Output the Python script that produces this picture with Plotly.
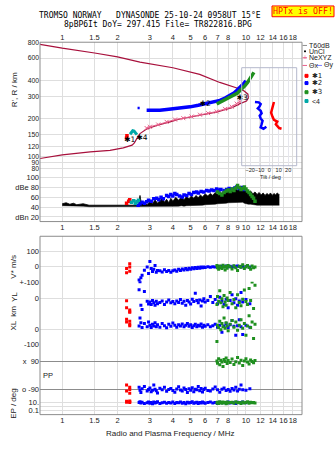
import plotly.graph_objects as go
import numpy as np

W, H = 335, 451
def px(x): return x / W
def py(y): return 1 - y / H

# ---------------- ticks ----------------
freq_ticks = [1, 1.5, 2, 3, 4, 5, 6, 7, 8, 9, 10, 12, 14, 16, 18]
freq_labels_mid = ["1", "1.5", "2", "3", "4", "5", "6", "7", "8", "9", "10", "12", "14", "16", "18"]
freq_labels_tb = ["1", "1.5", "2", "3", "4", "5", "6", "7", "8", "", "10", "12", "14", "16", "18"]
range_ticks = [800, 600, 400, 300, 200, 150, 120, 100, 90, 80]
db_ticks = [100, 80, 60, 40, 20]
db_labels = ["100", "dBe 80", "60", "40", "dBn 20"]
tilt_ticks = [-20, -10, 0, 10, 20]

# ---------------- top panel data ----------------
prof_f = [0.756, 1.0, 1.5, 2.0, 2.65, 4.0, 5.6, 7.2, 9.28, 9.7, 10.25, 10.3, 10.07, 9.28, 8.4, 7.6, 6.9,
          6.11, 5.0, 4.37, 3.86, 3.27, 2.88, 2.65, 2.54, 2.47, 2.4, 2.15, 1.82, 1.42, 1.0, 0.756]
prof_r = [771, 718, 658, 612, 557, 503, 446, 385, 342, 332, 311, 290, 275, 262, 243, 232, 224,
          217, 205, 198, 188, 176, 165, 152, 138, 128, 123, 117, 112, 109, 103, 96.5]

ne_f = [2.88, 3.0, 3.33, 3.7, 4.11, 4.56, 5.06, 5.62, 6.23, 6.93, 7.69, 8.36, 8.9, 9.28]
ne_r = [168, 172, 179, 188, 196, 201, 207, 214, 220, 227, 238, 248, 262, 272]

b_top_f = [2.88, 3.1, 3.4, 3.7, 4.02, 4.5, 4.96, 5.5, 6.11, 6.6, 7.22, 7.7, 8.18, 8.6, 8.9, 9.3, 9.67, 10.0]
b_top_r = [232, 231, 232, 235, 238, 242, 247, 254, 262, 270, 278, 290, 304, 318, 332, 352, 374, 397]
b_dash_f = [2.57, 2.64]
b_dash_r = [242, 242]

g_top_f = [6.93, 7.52, 8.0, 8.53, 9.0, 9.28, 9.6, 9.88, 10.2, 10.5, 10.8, 10.96, 11.05]
g_top_r = [260, 278, 290, 304, 318, 332, 345, 363, 385, 409, 430, 446, 462]

c_top_f = [2.34, 2.38, 2.42, 2.46, 2.5, 2.55]
c_top_r = [150, 155, 160, 159, 154, 149]

r_top_f = [2.24, 2.25]
r_top_r = [140, 146]

lab_f = [2.33, 2.72, 6.0, 9.55]
lab_r = [136, 141, 258, 288]
lab_t = ["✱1", "✱4", "✱2", "✱3"]

# inset tilt data
tilt_b_deg = [-15, -11, -9, -10, -12, -9, -8, -10, -9, -7, -8, -9, -6, -3]
tilt_b_r = [270, 268, 260, 250, 240, 230, 220, 210, 200, 192, 180, 170, 166, 172]
tilt_r_deg = [5, 4, 3.5, 2, 3.5, 5, 8.5, 7, 10.5, 13]
tilt_r_r = [270, 255, 243, 222, 206, 195, 189, 180, 168, 166]

# ---------------- amplitude panel ----------------
noise_f = [1.0, 1.05, 1.1, 1.15, 1.2, 1.3, 1.4, 1.5, 1.7, 1.9, 2.1, 2.3, 2.5, 2.6,
           2.65, 2.7, 2.8, 2.9, 3.0, 3.1, 3.2, 3.3, 3.4, 3.5, 3.6, 3.7, 3.8, 3.9, 4.0,
           4.15, 4.3, 4.45, 4.6, 4.75, 4.9, 5.05, 5.2, 5.35, 5.5, 5.65, 5.8, 6.0, 6.2,
           6.4, 6.6, 6.8, 7.0, 7.2, 7.4, 7.6, 7.8, 8.0, 8.2, 8.4, 8.6, 8.8, 9.0, 9.2,
           9.4, 9.6, 9.8, 10.0, 10.3, 10.6, 10.9, 11.2, 11.5, 11.8, 12.1, 12.4, 12.7,
           13.0, 13.3, 13.6, 13.9, 14.2, 14.5, 14.8, 15.1, 15.2]
noise_hi = [47, 49, 46, 48, 45, 47, 44, 44, 43, 43, 43, 43, 43, 44,
            64, 46, 50, 45, 52, 47, 55, 48, 53, 59, 50, 56, 49, 58, 52,
            60, 54, 61, 55, 62, 57, 63, 58, 64, 59, 65, 61, 67, 63,
            68, 64, 70, 66, 72, 68, 73, 70, 75, 71, 76, 72, 78, 74, 79,
            75, 77, 73, 76, 70, 73, 67, 71, 66, 70, 65, 69, 64,
            68, 65, 69, 64, 68, 65, 69, 66, 66]
noise_lo = [43, 43, 42, 43, 42, 42, 41, 41, 41, 41, 41, 41, 41, 41,
            41, 41, 41, 41, 41, 41, 41, 41, 41, 41, 41, 41, 41, 41, 42,
            42, 42, 43, 42, 43, 43, 44, 43, 44, 44, 44, 44, 45, 45,
            45, 45, 46, 47, 47, 47, 48, 48, 49, 49, 50, 50, 50, 50, 50,
            49, 50, 48, 47, 46, 46, 45, 45, 44, 44, 44, 44, 44,
            44, 44, 44, 44, 44, 44, 44, 44, 44]

b_amp_f = [2.59, 2.65, 2.72, 2.8, 2.88, 2.95, 3.05, 3.15, 3.27, 3.35, 3.45, 3.55, 3.7, 3.8, 3.9,
           4.0, 4.1, 4.2, 4.35, 4.5, 4.6, 4.76, 4.9, 5.05, 5.2, 5.39, 5.5, 5.7, 5.9, 6.11, 6.3,
           6.5, 6.7, 6.93, 7.1, 7.3, 7.6, 7.86, 8.1, 8.4, 8.7, 8.9, 9.2, 9.5, 9.8]
b_amp_db = [44, 47, 50, 48, 51, 54, 52, 57, 58, 55, 60, 57, 64, 62, 66,
            63, 68, 66, 63, 61, 65, 64, 68, 66, 70, 71, 69, 72, 71, 74, 73,
            75, 74, 77, 75, 76, 74, 76, 78, 77, 79, 81, 78, 80, 76]
g_amp_f = [7.0, 7.2, 7.4, 7.6, 7.8, 8.0, 8.2, 8.4, 8.6, 8.8, 9.0, 9.2, 9.4, 9.6, 9.8, 10.0,
           10.2, 10.4, 10.6, 10.8, 11.0, 11.2]
g_amp_db = [71, 68, 65, 70, 73, 75, 72, 77, 74, 79, 84, 80, 76, 78, 81, 77,
            73, 70, 66, 62, 58, 52]
r_amp_f = [2.24, 2.3, 2.33]
r_amp_db = [48, 52, 55]
c_amp_f = [2.38, 2.45, 2.5, 2.55, 2.6]
c_amp_db = [50, 53, 48, 51, 54]

# ---------------- lower panel ----------------
blue_f = [2.62, 2.65, 2.68, 2.72, 2.8, 2.9, 2.95, 3.0, 3.05, 3.1,
          3.15, 3.2, 3.25, 3.3, 3.4, 3.5, 3.6, 3.7, 3.8, 3.9,
          4.0, 4.1, 4.2, 4.3, 4.4, 4.5, 4.6, 4.7, 4.8, 4.9,
          5.0, 5.1, 5.2, 5.3, 5.4, 5.5, 5.6, 5.7, 5.8, 5.9,
          6.0, 6.2, 6.4, 6.6, 6.8, 7.0, 7.2, 7.4, 7.6, 7.8,
          8.0, 8.2, 8.4, 8.6, 8.8, 9.0, 9.2, 9.4, 9.6, 10.0,
          10.5]
blue_v = [-91, -106, -75, -60, -26, -4, -48, 33, -15, -35,
          -20, 5, -40, -28, -30, -38, -22, -35, -28, -40,
          -30, -25, -33, -20, -28, -18, -25, -15, -22, -12,
          -20, -10, -16, -8, -14, -6, -12, -5, -10, -4,
          -8, -3, -6, -2, -5, -1, -4, 0, -3, 2,
          -2, 1, -4, 0, -3, 2, -1, -5, 0, -2,
          -4]
blue_yl = [51, 102, -45, -71, 41, -20, -38, -25, -40, -15,
           -30, -45, -20, -35, -28, -18, -40, -25, -12, -30,
           -22, -35, -18, -28, -10, -32, -20, -45, -15, -25,
           -38, -8, -22, 30, -15, -30, -12, -50, -18, -5,
           -25, -15, 10, -28, -10, -35, 5, -20, -40, -8,
           -60, -15, 20, -30, -5, -45, -18, 35, -25, -10,
           -35]
blue_xl = [20, 71, 40, 10, 35, 15, 45, 25, 10, 30,
           20, 40, 15, 28, 12, 35, 22, 8, 30, 18,
           38, 25, 12, 28, 20, 32, 15, 25, 35, 18,
           28, 10, 22, 30, 15, 25, 20, 32, 12, 24,
           18, 28, 15, 22, 30, 12, 25, -20, 20, 35,
           10, 28, 55, 18, -40, 22, 60, 15, -35, 25,
           12]
blue_pp = [-75, -95, -110, -85, -70, -100, -90, -80, -105, -95,
           -60, -88, -98, -112, -82, -92, -76, -102, -90, -84,
           -96, -108, -86, -72, -94, -100, -80, -90, -110, -85,
           -95, -78, -104, -88, -92, -70, -98, -84, -106, -90,
           -82, -96, -100, -86, -74, -92, -108, -88, -80, -96,
           -90, -102, -84, -94, -76, -100, -88, -60, -92, -95,
           -85]
blue_ep = [10, 15, 8, 12, 6, 9, 14, 7, 11, 5,
           13, 8, 10, 16, 6, 9, 12, 7, 11, 8,
           14, 6, 10, 9, 13, 7, 11, 5, 12, 8,
           10, 15, 7, 9, 12, 6, 11, 8, 13, 9,
           7, 10, 14, 8, 11, 6, 12, 9, 10, 7,
           13, 8, 11, 9, 6, 12, 10, 8, 14, 9,
           11]

green_f = [6.95, 7.0, 7.1, 7.2, 7.3, 7.4, 7.5, 7.6, 7.7, 7.8,
           7.9, 8.0, 8.2, 8.4, 8.6, 8.8, 9.0, 9.2, 9.4, 9.6,
           9.8, 10.0, 10.2, 10.4, 10.6, 10.8, 11.0, 11.2]
green_v = [5, -10, -20, 2, -8, -15, 8, -5, -25, 0,
           -12, 6, -3, -18, 4, -9, -28, 1, -6, 10,
           -14, -2, 5, -8, -20, 3, -10, -4]
green_yl = [-40, 10, -20, 45, -30, -5, -55, 15, -25, -45,
            0, -15, 35, -35, -10, -60, 20, -28, -48, -8,
            50, -22, -40, 60, -15, 100, -65, 80]
green_xl = [-80, 25, 10, 50, -5, 35, 15, 70, 5, 40,
            20, -10, 30, 55, 12, 45, -8, 25, 60, 5,
            35, -40, 20, 85, 10, 45, -60, 30]
green_pp = [95, 80, 110, 70, 100, 88, 60, 105, 92, 115,
            78, 98, 85, 108, 72, 90, 118, 82, 100, 65,
            95, 110, 88, 76, 102, 92, 84, 98]
green_ep = [8, 12, 6, 15, 10, 7, 13, 9, 11, 5,
            14, 8, 10, 12, 7, 16, 9, 11, 6, 13,
            8, 10, 15, 7, 12, 9, 11, 8]

red_f = [2.24, 2.24, 2.33, 2.33, 2.33]
red_v = [-43, -15, 18, -4, -33]
red_yl = [-17, -60, -75, -92, -85]
red_xl = [62, 45, 30, 21, 50]
red_pp = [-60, -100, -75, -115, -90]
red_ep = [12, 22, 25, 10, 16]

# ---------------- colours ----------------
C_RED = "#ff0000"
C_BLUE = "#0000ff"
C_GREEN = "#1f8f1f"
C_CYAN = "#00a8a8"
C_PROF = "#a8103c"
C_PINK = "#e8608c"
GRID = "#dedede"
FONT = "Liberation Sans"

fig = go.Figure()

def sc(x, y, xa, ya, color, mode="markers", size=3, **kw):
    fig.add_trace(go.Scatter(x=x, y=y, xaxis=xa, yaxis=ya, mode=mode,
                             marker=dict(color=color, size=size, symbol="square"),
                             line=dict(color=color), showlegend=False, hoverinfo="skip", **kw))

# top panel
fig.add_trace(go.Scatter(x=prof_f, y=prof_r, xaxis="x", yaxis="y", mode="lines",
                         line=dict(color=C_PROF, width=1.2), showlegend=False, hoverinfo="skip"))
fig.add_trace(go.Scatter(x=ne_f, y=ne_r, xaxis="x", yaxis="y", mode="lines+markers",
                         line=dict(color=C_PINK, width=1),
                         marker=dict(symbol="x-thin", size=4, line=dict(color=C_PINK, width=1)),
                         showlegend=False, hoverinfo="skip"))
fig.add_trace(go.Scatter(x=b_top_f, y=b_top_r, xaxis="x", yaxis="y", mode="lines",
                         line=dict(color=C_BLUE, width=3.5), showlegend=False, hoverinfo="skip"))
fig.add_trace(go.Scatter(x=b_dash_f, y=b_dash_r, xaxis="x", yaxis="y", mode="lines",
                         line=dict(color=C_BLUE, width=2.5), showlegend=False, hoverinfo="skip"))
fig.add_trace(go.Scatter(x=g_top_f, y=g_top_r, xaxis="x", yaxis="y", mode="lines",
                         line=dict(color=C_GREEN, width=3.5), showlegend=False, hoverinfo="skip"))
fig.add_trace(go.Scatter(x=c_top_f, y=c_top_r, xaxis="x", yaxis="y", mode="lines",
                         line=dict(color=C_CYAN, width=3), showlegend=False, hoverinfo="skip"))
sc(r_top_f, r_top_r, "x", "y", C_RED, size=3.5)
fig.add_trace(go.Scatter(x=lab_f, y=lab_r, xaxis="x", yaxis="y", mode="text", text=lab_t,
                         textfont=dict(family="DejaVu Sans", size=7.5, color="black"),
                         showlegend=False, hoverinfo="skip"))

# inset
fig.add_trace(go.Scatter(x=tilt_b_deg, y=tilt_b_r, xaxis="x4", yaxis="y8", mode="lines",
                         line=dict(color=C_BLUE, width=2.5), showlegend=False, hoverinfo="skip"))
fig.add_trace(go.Scatter(x=tilt_r_deg, y=tilt_r_r, xaxis="x4", yaxis="y8", mode="lines",
                         line=dict(color=C_RED, width=2.5), showlegend=False, hoverinfo="skip"))

# amplitude
fig.add_trace(go.Scatter(x=noise_f, y=noise_lo, xaxis="x2", yaxis="y2", mode="lines",
                         line=dict(color="black", width=0.5), showlegend=False, hoverinfo="skip"))
fig.add_trace(go.Scatter(x=noise_f, y=noise_hi, xaxis="x2", yaxis="y2", mode="lines",
                         line=dict(color="black", width=0.8), fill="tonexty", fillcolor="black",
                         showlegend=False, hoverinfo="skip"))
sc(b_amp_f, b_amp_db, "x2", "y2", C_BLUE, size=3.5)
sc(g_amp_f, g_amp_db, "x2", "y2", C_GREEN, size=3.5)
sc(r_amp_f, r_amp_db, "x2", "y2", C_RED, size=3.5)
sc(c_amp_f, c_amp_db, "x2", "y2", C_CYAN, size=3.5)

# lower panels
for ya, bv, gv, rv in [("y3", blue_v, green_v, red_v), ("y4", blue_yl, green_yl, red_yl),
                       ("y5", blue_xl, green_xl, red_xl), ("y6", blue_pp, green_pp, red_pp),
                       ("y7", blue_ep, green_ep, red_ep)]:
    sc(blue_f, bv, "x3", ya, C_BLUE)
    sc(green_f, gv, "x3", ya, C_GREEN)
    sc(red_f, rv, "x3", ya, C_RED)

tf = dict(family=FONT, size=7.5, color="#222")
common = dict(zeroline=False, showline=False, ticks="", tickfont=tf)
xbase = dict(type="log", range=[-0.121, 1.305], domain=[px(40), px(302)], tickvals=freq_ticks,
             showgrid=True, gridcolor=GRID, gridwidth=1, tickangle=0, **common)

def lin_range(top_px, bot_px, v0, p0, scale):
    return [v0 - (bot_px - p0) / scale, v0 + (p0 - top_px) / scale]

def log_range(top_px, bot_px, v0, p0, ppd):
    return [np.log10(v0) - (bot_px - p0) / ppd, np.log10(v0) + (p0 - top_px) / ppd]

layout = dict(
    width=W, height=H, margin=dict(l=0, r=0, t=0, b=0),
    paper_bgcolor="white", plot_bgcolor="rgba(0,0,0,0)", hovermode=False,
    xaxis=dict(anchor="y", side="top", ticktext=freq_labels_tb, **xbase),
    xaxis2=dict(anchor="y2", side="bottom", ticktext=freq_labels_mid, matches="x", **xbase),
    xaxis3=dict(anchor="y7", side="bottom", ticktext=freq_labels_tb, **xbase),
    xaxis4=dict(anchor="y8", domain=[px(241.7), px(296.7)], range=[-29, 29], tickvals=tilt_ticks,
                showgrid=True, gridcolor="#e6e6ec", zeroline=False, showline=False, ticks="",
                tickangle=0, tickfont=dict(family=FONT, size=5.5, color="#222")),
    yaxis=dict(anchor="x", domain=[py(170), py(39)], type="log",
               range=log_range(39, 170, 800, 39, 129.2), tickvals=range_ticks,
               showgrid=True, gridcolor=GRID, zeroline=False, showline=False, ticks="",
               tickfont=dict(family=FONT, size=6.8, color="#222")),
    yaxis2=dict(anchor="x2", domain=[py(222), py(170)],
                range=lin_range(170, 222, 100, 177.3, 0.5), tickvals=db_ticks, ticktext=db_labels,
                showgrid=True, gridcolor=GRID, **common),
    yaxis3=dict(anchor="x3", domain=[py(283.3), py(237)],
                range=lin_range(237, 283.3, 0, 267.7, 0.1533), tickvals=[100, 0],
                ticktext=["100", "0"], showgrid=True, gridcolor=GRID, **common),
    yaxis4=dict(anchor="x3", domain=[py(316), py(283.3)],
                range=lin_range(283.3, 316, 0, 300, 0.1635), tickvals=[100, 0, -100],
                ticktext=["+-100", "0", "+-100"], showgrid=True, gridcolor=GRID, **common),
    yaxis5=dict(anchor="x3", domain=[py(347.7), py(316)],
                range=lin_range(316, 347.7, 0, 331.7, 0.16), tickvals=[0, -100],
                ticktext=["0", "-100"], showgrid=True, gridcolor=GRID, **common),
    yaxis6=dict(anchor="x3", domain=[py(400), py(347.7)],
                range=lin_range(347.7, 400, 0, 379.2, 0.1572), tickvals=[90, -90],
                ticktext=["x  90", "o -90"], showgrid=True, gridcolor="#8c8c8c", **common),
    yaxis7=dict(anchor="x3", domain=[py(419), py(400)], type="log",
                range=log_range(400, 419, 10, 406.7, 4.15), tickvals=[10, 1, 0.1],
                ticktext=["10.", "", "0.1"], showgrid=True, gridcolor=GRID, **common),
    yaxis8=dict(anchor="x4", domain=[py(165), py(65)], type="log",
                range=log_range(65, 165, 800, 39, 129.2), showticklabels=False,
                showgrid=False, zeroline=False, showline=False, ticks=""),
)
fig.update_layout(**layout)

shapes = []
def prect(x0, y0, x1, y1, color, width=1, fill=None):
    d = dict(type="rect", xref="paper", yref="paper", x0=px(x0), x1=px(x1), y0=py(y1), y1=py(y0),
             line=dict(color=color, width=width))
    if fill:
        d["fillcolor"] = fill
    shapes.append(d)
def pline(x0, y0, x1, y1, color, width=1):
    shapes.append(dict(type="line", xref="paper", yref="paper", x0=px(x0), x1=px(x1), y0=py(y0),
                       y1=py(y1), line=dict(color=color, width=width)))

prect(40, 39, 302, 222, "#8c8c8c")
prect(40, 237, 302, 419, "#8c8c8c")
prect(241.7, 65, 296.7, 165, "#b4b8cc")
prect(272, 2, 334, 13, C_RED, 1, "#ffff00")
pline(302.5, 42.3, 307, 42.3, "#909090")
prect(304.5, 47.8, 305.5, 48.8, "black", 1, "black")
pline(302.5, 55, 307, 55, C_PINK)
pline(302.5, 62.7, 307, 62.7, C_PINK)
pline(317, 62.7, 322, 62.7, "#8080ff")
for yy, cc in [(73.3, C_RED), (80.7, C_BLUE), (90, C_GREEN), (99, C_CYAN)]:
    prect(305, yy - 1.5, 308, yy + 1.5, cc, 1, cc)

ann = []
def txt(x, y, s, size=7, color="#222", anchor="center", family=FONT, angle=0):
    ann.append(dict(xref="paper", yref="paper", x=px(x), y=py(y), text=s, showarrow=False,
                    xanchor=anchor, yanchor="middle", textangle=angle, borderpad=0,
                    font=dict(family=family, size=size, color=color)))

txt(150, 11.8, "TROMSO NORWAY   DYNASONDE 25-10-24 0958UT 15°E", 8, "black", family="DejaVu Sans Mono")
txt(157.5, 21, "8pBP6It DoY= 297.415 File= TR822816.BPG", 8, "black", family="DejaVu Sans Mono")
txt(303, 7.5, "HPTx is OFF!", 8.3, C_RED, family="DejaVu Sans Mono")
txt(14, 88, "R', R / km", 8, "#222", angle=-90)
txt(14, 268, "V* m/s", 8, "#222", angle=-90)
txt(14, 299, "YL", 8, "#222", angle=-90)
txt(14, 321, "XL  km", 8, "#222", angle=-90)
txt(48, 379.5, "PP", 7.5, "#222")
txt(14, 408, "EP / deg", 8, "#222", angle=-90)
txt(170, 438.7, "Radio and Plasma Frequency / MHz", 8, "#222")
txt(270, 176.5, "Tilt / deg", 5.5, "#222")
txt(308, 42.3, "T60dB", 7, anchor="left")
txt(308, 48.3, "UnCl", 7, anchor="left")
txt(305, 55, "+", 7, C_PINK)
txt(308, 55, "NeXYZ", 7, anchor="left")
txt(307.5, 62.7, "Θx", 7, anchor="left")
txt(322.5, 62.7, "Θy", 7, anchor="left")
txt(310.5, 73.3, "✱1", 7, anchor="left", family="DejaVu Sans")
txt(310.5, 80.7, "✱2", 7, anchor="left", family="DejaVu Sans")
txt(310.5, 90, "✱3", 7, anchor="left", family="DejaVu Sans")
txt(310.5, 99, "<4", 7, anchor="left")

fig.update_layout(shapes=shapes, annotations=ann)
fig.write_html("out.html", config={"displayModeBar": False})
